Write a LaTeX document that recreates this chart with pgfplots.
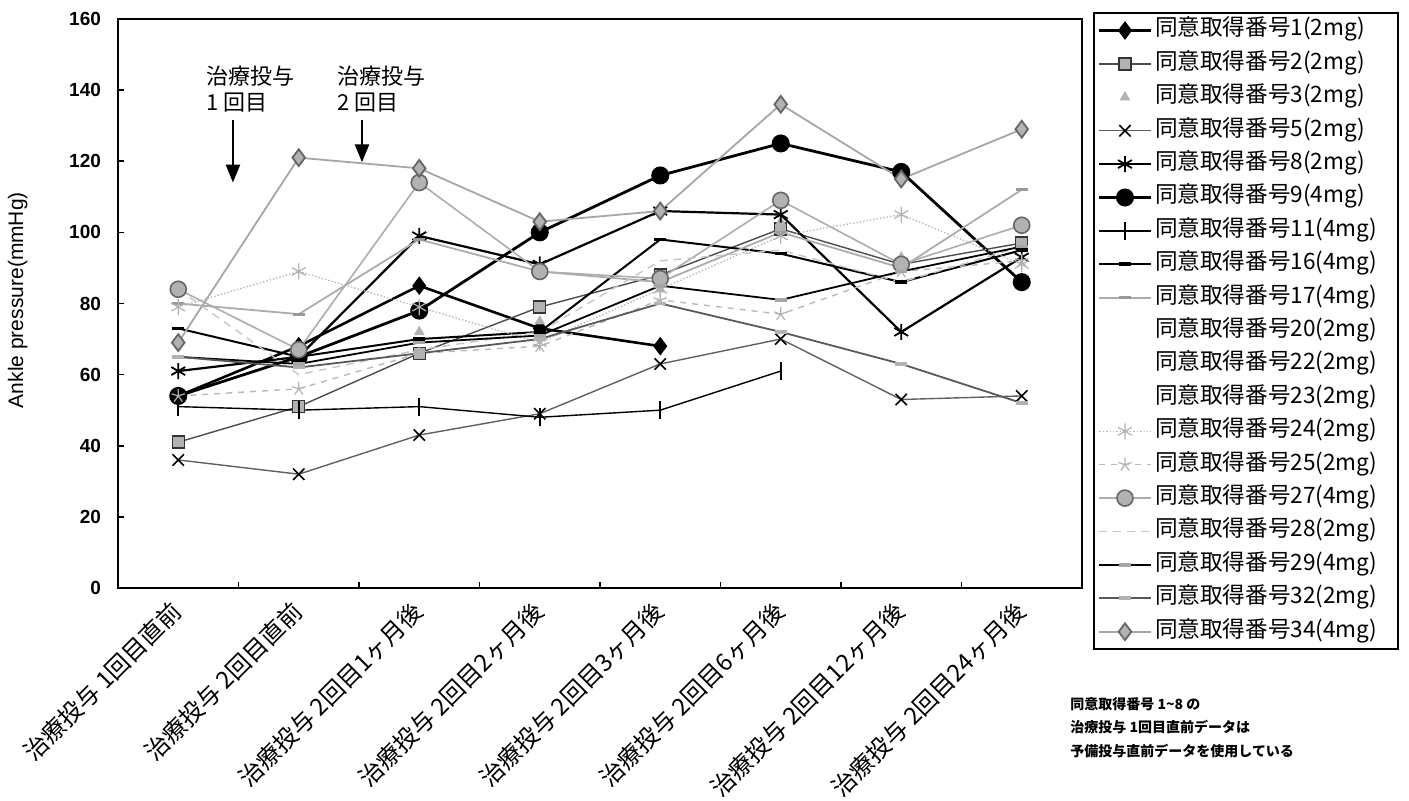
\documentclass[border=0pt]{standalone}
\usepackage{fontspec}
\setmainfont{Liberation Sans}
\newfontfamily\jp{Noto Sans CJK JP}
\usepackage{pgfplots}
\pgfplotsset{compat=1.18}
\usetikzlibrary{arrows.meta}
\newcommand\lt[1]{\makebox[118pt][l]{\jp #1}}
\begin{document}
\begin{tikzpicture}
\useasboundingbox (0,0) rectangle (704.5pt,400.5pt);
\begin{axis}[
  at={(59pt,106.5pt)}, anchor=south west,
  scale only axis, width=482pt, height=284.5pt,
  xmin=-0.5, xmax=7.5, ymin=0, ymax=160,
  xtick={0,...,7},
  xticklabels={{治療投与 1回目直前},{治療投与 2回目直前},{治療投与 2回目1ヶ月後},{治療投与 2回目2ヶ月後},{治療投与 2回目3ヶ月後},{治療投与 2回目6ヶ月後},{治療投与 2回目12ヶ月後},{治療投与 2回目24ヶ月後}},
  minor xtick={0.5,1.5,...,6.5},
  ytick={0,20,...,160},
  xtick pos=bottom, ytick pos=left,
  tick align=inside,
  major tick length=3pt, minor tick length=3pt,
  major x tick style={draw=none},
  every tick/.style={black, line width=0.8pt},
  minor x tick style={black, line width=0.8pt},
  axis line style={line width=0.9pt},
  /pgf/number format/assume math mode=true,
  yticklabel style={font=\bfseries\fontsize{9.5}{11}\selectfont, xshift=-5pt},
  xticklabel style={yshift=-7pt, xshift=2pt, rotate=45, anchor=east, font=\jp\fontsize{12}{14}\selectfont},
  ylabel={Ankle pressure(mmHg)},
  ylabel style={at={(axis description cs:-0.104,0.506)}, anchor=center, font=\fontsize{10.5}{12}\selectfont},
  clip=false,
  legend style={at={(1.0114,1.0123)}, anchor=north west, draw=black, line width=1pt,
    inner sep=2pt, row sep=3.2pt,
    nodes={inner sep=1.5pt, text height=8pt, text depth=2.5pt, font=\fontsize{11.3}{12}\selectfont}},
  legend cell align=left,
  legend image code/.code={\draw[mark repeat=2,mark phase=2,#1] plot coordinates {(0cm,0cm) (0.45cm,0cm) (0.9cm,0cm)};},
]
% 1
\addplot[black, line width=1.3pt, mark=diamond*, mark size=3.6pt, mark options={solid}]
  coordinates {(0,54)(1,68)(2,85)(3,73)(4,68)};
\addlegendentry{\lt{同意取得番号1(2mg)}}
% 2
\addplot[black!70, line width=0.7pt, mark=square*, mark size=3pt, mark options={solid, fill=gray!60, draw=black!80}]
  coordinates {(0,41)(1,51)(2,66)(3,79)(4,88)(5,101)(6,91)(7,97)};
\addlegendentry{\lt{同意取得番号2(2mg)}}
% 3
\addplot[only marks, gray!60, mark=triangle*, mark size=2.6pt, line width=0.5pt]
  coordinates {(0,53)(1,63)(2,72)(3,75)(4,84)(5,103)(6,93)(7,96)};
\addlegendentry{\lt{同意取得番号3(2mg)}}
% 5
\addplot[gray!75!black, line width=0.7pt, mark=x, mark size=4pt, mark options={solid, black, line width=0.8pt}]
  coordinates {(0,36)(1,32)(2,43)(3,49)(4,63)(5,70)(6,53)(7,54)};
\addlegendentry{\lt{同意取得番号5(2mg)}}
% 8
\addplot[black, line width=1.1pt, mark=asterisk, mark size=4pt, mark options={solid, line width=0.9pt}]
  coordinates {(0,61)(1,65)(2,99)(3,91)(4,106)(5,105)(6,72)(7,93)};
\addlegendentry{\lt{同意取得番号8(2mg)}}
% 9
\addplot[black, line width=1.4pt, mark=*, mark size=3.8pt, mark options={solid}]
  coordinates {(0,54)(1,65)(2,78)(3,100)(4,116)(5,125)(6,117)(7,86)};
\addlegendentry{\lt{同意取得番号9(4mg)}}
% 11
\addplot[black, line width=0.7pt, mark=|, mark size=4.5pt, mark options={solid, line width=0.9pt}]
  coordinates {(0,51)(1,50)(2,51)(3,48)(4,50)(5,61)};
\addlegendentry{\lt{同意取得番号11(4mg)}}
% 16
\addplot[black, line width=1pt, mark=-, mark size=3pt, mark options={solid, line width=1.8pt}]
  coordinates {(0,73)(1,65)(2,70)(3,72)(4,98)(5,94)(6,86)(7,95)};
\addlegendentry{\lt{同意取得番号16(4mg)}}
% 17
\addplot[gray!65, line width=0.9pt, mark=-, mark size=3pt, mark options={solid, gray!80, line width=1.6pt}]
  coordinates {(0,80)(1,77)(2,98)(3,89)(4,86)(5,100)(6,90)(7,112)};
\addlegendentry{\lt{同意取得番号17(4mg)}}
% 20, 22, 23 (not visible)
\addlegendimage{empty legend}
\addlegendentry{\lt{同意取得番号20(2mg)}}
\addlegendimage{empty legend}
\addlegendentry{\lt{同意取得番号22(2mg)}}
\addlegendimage{empty legend}
\addlegendentry{\lt{同意取得番号23(2mg)}}
% 24
\addplot[gray!55, line width=0.7pt, densely dotted, mark=asterisk, mark size=4pt, mark options={solid, gray!60, line width=0.6pt}]
  coordinates {(0,79)(1,89)(2,79)(3,69)(4,84)(5,99)(6,105)(7,91)};
\addlegendentry{\lt{同意取得番号24(2mg)}}
% 25
\addplot[gray!55, line width=0.7pt, dashed, mark=star, mark size=3.5pt, mark options={solid, gray!60, line width=0.6pt}]
  coordinates {(0,54)(1,56)(2,66)(3,68)(4,81)(5,77)(6,89)(7,92)};
\addlegendentry{\lt{同意取得番号25(2mg)}}
% 27
\addplot[gray!65, line width=0.8pt, mark=*, mark size=4pt, mark options={solid, fill=gray!60, draw=black!60}]
  coordinates {(0,84)(1,67)(2,114)(3,89)(4,87)(5,109)(6,91)(7,102)};
\addlegendentry{\lt{同意取得番号27(4mg)}}
% 28
\addplot[gray!45, line width=0.7pt, dash pattern=on 4pt off 3pt]
  coordinates {(0,84)(1,60)(2,67)(3,72)(4,92)(5,95)(6,86)(7,96)};
\addlegendentry{\lt{同意取得番号28(2mg)}}
% 29
\addplot[black, line width=0.9pt, mark=-, mark size=3pt, mark options={solid, gray!70, line width=1.8pt}]
  coordinates {(0,65)(1,63)(2,69)(3,71)(4,85)(5,81)(6,89)(7,96)};
\addlegendentry{\lt{同意取得番号29(4mg)}}
% 32
\addplot[gray!70!black, line width=0.9pt, mark=-, mark size=3pt, mark options={solid, gray!60, line width=1.8pt}]
  coordinates {(0,65)(1,62)(2,66)(3,70)(4,80)(5,72)(6,63)(7,52)};
\addlegendentry{\lt{同意取得番号32(2mg)}}
% 34
\addplot[gray!70, line width=0.9pt, mark=diamond*, mark size=4.2pt, mark options={solid, fill=gray!60, draw=black!60}]
  coordinates {(0,69)(1,121)(2,118)(3,103)(4,106)(5,136)(6,115)(7,129)};
\addlegendentry{\lt{同意取得番号34(4mg)}}
% annotations
\node[anchor=north west, align=left, font=\jp\fontsize{11}{13}\selectfont, inner sep=0pt] at (axis cs:0.23,147) {治療投与\\1 回目};
\node[anchor=north west, align=left, font=\jp\fontsize{11}{13}\selectfont, inner sep=0pt] at (axis cs:1.317,147) {治療投与\\2 回目};
\draw[-{Triangle[length=9pt,width=7pt]}, line width=1.3pt] (axis cs:0.454,131.5) -- (axis cs:0.454,114);
\draw[-{Triangle[length=9pt,width=7pt]}, line width=1.3pt] (axis cs:1.525,131.5) -- (axis cs:1.525,119.7);
\end{axis}
\node[anchor=north west, align=left, font=\jp\bfseries\fontsize{7}{11.75}\selectfont, inner sep=0pt] at (535pt,52pt)
  {同意取得番号 1\textasciitilde 8 の\\治療投与 1回目直前データは\\予備投与直前データを使用している};
\end{tikzpicture}
\end{document}
